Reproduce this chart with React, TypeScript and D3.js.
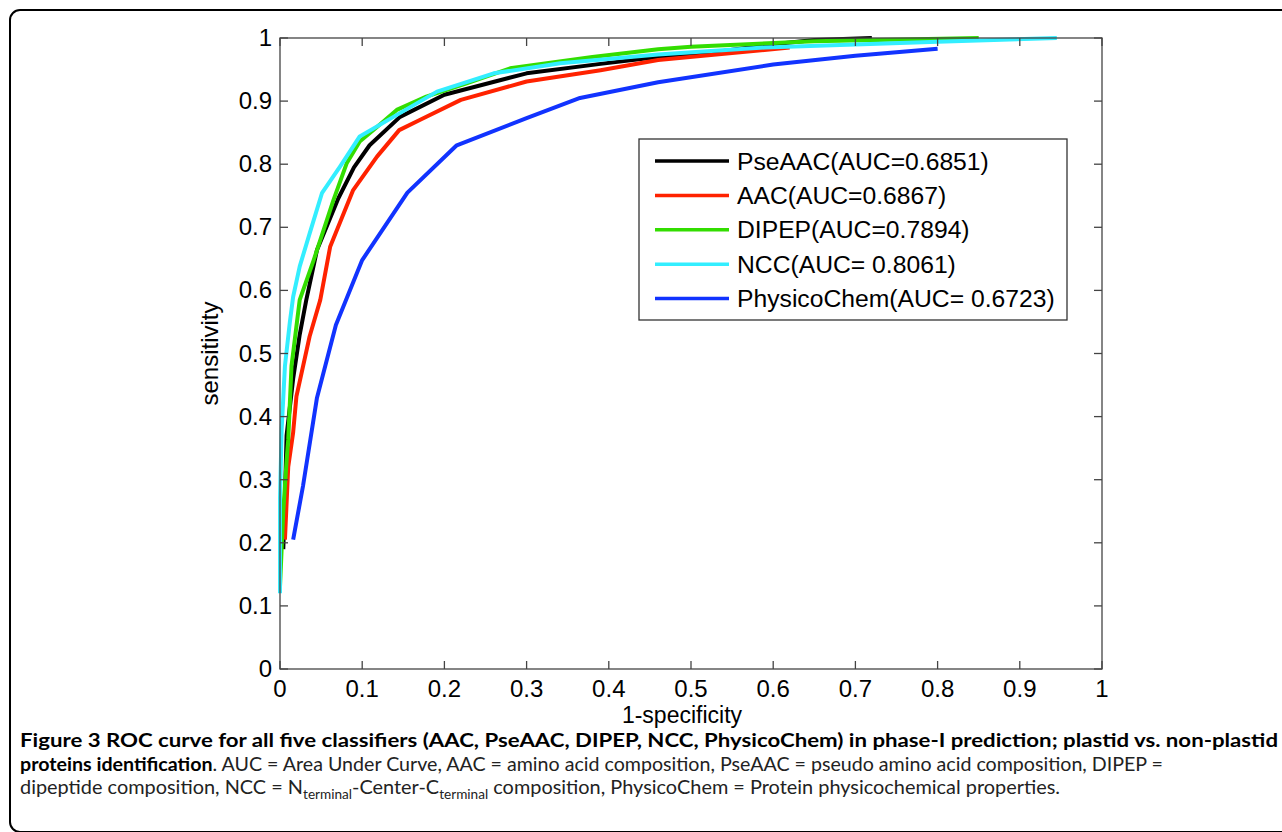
import React from "react";
import * as d3 from "d3";

type Pt = [number, number];

// ROC points [1-specificity, sensitivity]
const pseAAC: Pt[] = [
  [0.004, 0.19], [0.006, 0.27], [0.008, 0.37], [0.016, 0.46], [0.024, 0.53], [0.032, 0.585],
  [0.045, 0.664], [0.071, 0.746], [0.09, 0.795], [0.109, 0.83], [0.146, 0.875], [0.2, 0.91],
  [0.3, 0.944], [0.39, 0.959], [0.46, 0.97], [0.53, 0.978], [0.6, 0.99], [0.65, 0.997], [0.72, 1.0],
];
const aac: Pt[] = [
  [0.006, 0.205], [0.01, 0.32], [0.016, 0.375], [0.02, 0.432], [0.036, 0.527], [0.049, 0.585],
  [0.061, 0.669], [0.089, 0.759], [0.118, 0.812], [0.145, 0.854], [0.17, 0.87], [0.22, 0.902],
  [0.3, 0.931], [0.39, 0.949], [0.46, 0.965], [0.62, 0.985],
];
const dipep: Pt[] = [
  [0.0, 0.13], [0.004, 0.25], [0.008, 0.33], [0.01, 0.363], [0.014, 0.48], [0.024, 0.585],
  [0.041, 0.648], [0.065, 0.743], [0.081, 0.801], [0.097, 0.836], [0.118, 0.859], [0.142, 0.886],
  [0.178, 0.907], [0.227, 0.928], [0.28, 0.952], [0.38, 0.97], [0.46, 0.982], [0.5, 0.986],
  [0.65, 0.995], [0.85, 1.0],
];
const ncc: Pt[] = [
  [0.0, 0.12], [0.0, 0.27], [0.002, 0.38], [0.006, 0.48], [0.012, 0.55], [0.016, 0.59],
  [0.024, 0.638], [0.036, 0.69], [0.051, 0.754], [0.073, 0.796], [0.097, 0.844], [0.138, 0.875],
  [0.191, 0.915], [0.26, 0.944], [0.341, 0.96], [0.46, 0.974], [0.59, 0.985], [0.8, 0.994], [0.945, 1.0],
];
const physicoChem: Pt[] = [
  [0.016, 0.205], [0.028, 0.29], [0.045, 0.43], [0.068, 0.545], [0.1, 0.648], [0.155, 0.755],
  [0.215, 0.83], [0.3, 0.873], [0.365, 0.905], [0.46, 0.93], [0.6, 0.958], [0.7, 0.972], [0.8, 0.983],
];

const seriesData: Pt[][] = [pseAAC, aac, dipep, ncc, physicoChem];
const seriesNames = [
  "PseAAC(AUC=0.6851)",
  "AAC(AUC=0.6867)",
  "DIPEP(AUC=0.7894)",
  "NCC(AUC= 0.8061)",
  "PhysicoChem(AUC= 0.6723)",
];
const seriesColors = ["#000000", "#ff2200", "#33dd00", "#33eeff", "#1133ff"];

const tickValues = [0, 0.1, 0.2, 0.3, 0.4, 0.5, 0.6, 0.7, 0.8, 0.9, 1];
const tickLabels = ["0", "0.1", "0.2", "0.3", "0.4", "0.5", "0.6", "0.7", "0.8", "0.9", "1"];

const xLabel = "1-specificity";
const yLabel = "sensitivity";

export default function App() {
  const left = 280, right = 1102, top = 38, bottom = 669;
  const x = d3.scaleLinear().domain([0, 1]).range([left, right]);
  const y = d3.scaleLinear().domain([0, 1]).range([bottom, top]);
  const line = d3.line<Pt>().x((d) => x(d[0])).y((d) => y(d[1]));
  const axisColor = "#444";
  const tickLen = 8;
  const font = "'Liberation Sans', Arial, sans-serif";
  const capFont = "Lato, 'Open Sans', sans-serif";

  const legX = 639, legY = 139, legW = 428, legH = 181;

  return (
    <div style={{ position: "absolute", left: 0, top: 0 }}>
      <svg width={1282} height={832} style={{ display: "block", background: "#fff" }}>
        <rect x={10} y={10} width={1300} height={822} rx={10} ry={10} fill="none" stroke="#000" strokeWidth={2} />

        {/* curves */}
        <g fill="none" strokeWidth={4} strokeLinejoin="round">
          {seriesData.map((s, i) => (
            <path key={i} d={line(s) || ""} stroke={seriesColors[i]} />
          ))}
        </g>

        {/* axes box */}
        <rect x={left} y={top} width={right - left} height={bottom - top} fill="none" stroke={axisColor} strokeWidth={1.3} />
        <g stroke={axisColor} strokeWidth={1.3}>
          {tickValues.map((t, i) => (
            <g key={i}>
              <line x1={x(t)} x2={x(t)} y1={bottom} y2={bottom - tickLen} />
              <line x1={x(t)} x2={x(t)} y1={top} y2={top + tickLen} />
              <line x1={left} x2={left + tickLen} y1={y(t)} y2={y(t)} />
              <line x1={right} x2={right - tickLen} y1={y(t)} y2={y(t)} />
            </g>
          ))}
        </g>
        <g fontFamily={font} fontSize={24} fill="#000">
          {tickValues.map((t, i) => (
            <text key={"x" + i} x={x(t)} y={697} textAnchor="middle">{tickLabels[i]}</text>
          ))}
          {tickValues.map((t, i) => (
            <text key={"y" + i} x={272} y={y(t) + 8} textAnchor="end">{tickLabels[i]}</text>
          ))}
          <text x={682} y={723} fontSize={23} textAnchor="middle">{xLabel}</text>
          <text transform={`translate(218, ${(top + bottom) / 2}) rotate(-90)`} textAnchor="middle">{yLabel}</text>
        </g>

        {/* legend */}
        <rect x={legX} y={legY} width={legW} height={legH} fill="#fff" stroke="#333" strokeWidth={1.3} />
        <g fontFamily={font} fontSize={24.7} fill="#000">
          {seriesNames.map((n, i) => {
            const ly = 161 + i * 34.4;
            return (
              <g key={i}>
                <line x1={655} x2={729} y1={ly} y2={ly} stroke={seriesColors[i]} strokeWidth={3.5} />
                <text x={737} y={ly + 8.5}>{n}</text>
              </g>
            );
          })}
        </g>

        {/* caption */}
        <g fontFamily={capFont} fontSize={19}>
          <text x={20} y={747} fontWeight="bold" fill="#000" textLength={1258} lengthAdjust="spacingAndGlyphs">
            Figure 3 ROC curve for all five classifiers (AAC, PseAAC, DIPEP, NCC, PhysicoChem) in phase-I prediction; plastid vs. non-plastid
          </text>
          <text x={20} y={770.5} fill="#222" textLength={1143} lengthAdjust="spacingAndGlyphs">
            <tspan fontWeight="bold" fill="#000">proteins identification</tspan>
            <tspan>. AUC = Area Under Curve, AAC = amino acid composition, PseAAC = pseudo amino acid composition, DIPEP =</tspan>
          </text>
          <text x={20} y={794} fill="#222" textLength={1040} lengthAdjust="spacingAndGlyphs">
            <tspan>dipeptide composition, NCC = N</tspan>
            <tspan fontSize={13} dy={5}>terminal</tspan>
            <tspan dy={-5}>-Center-C</tspan>
            <tspan fontSize={13} dy={5}>terminal</tspan>
            <tspan dy={-5}> composition, PhysicoChem = Protein physicochemical properties.</tspan>
          </text>
        </g>
      </svg>
    </div>
  );
}
